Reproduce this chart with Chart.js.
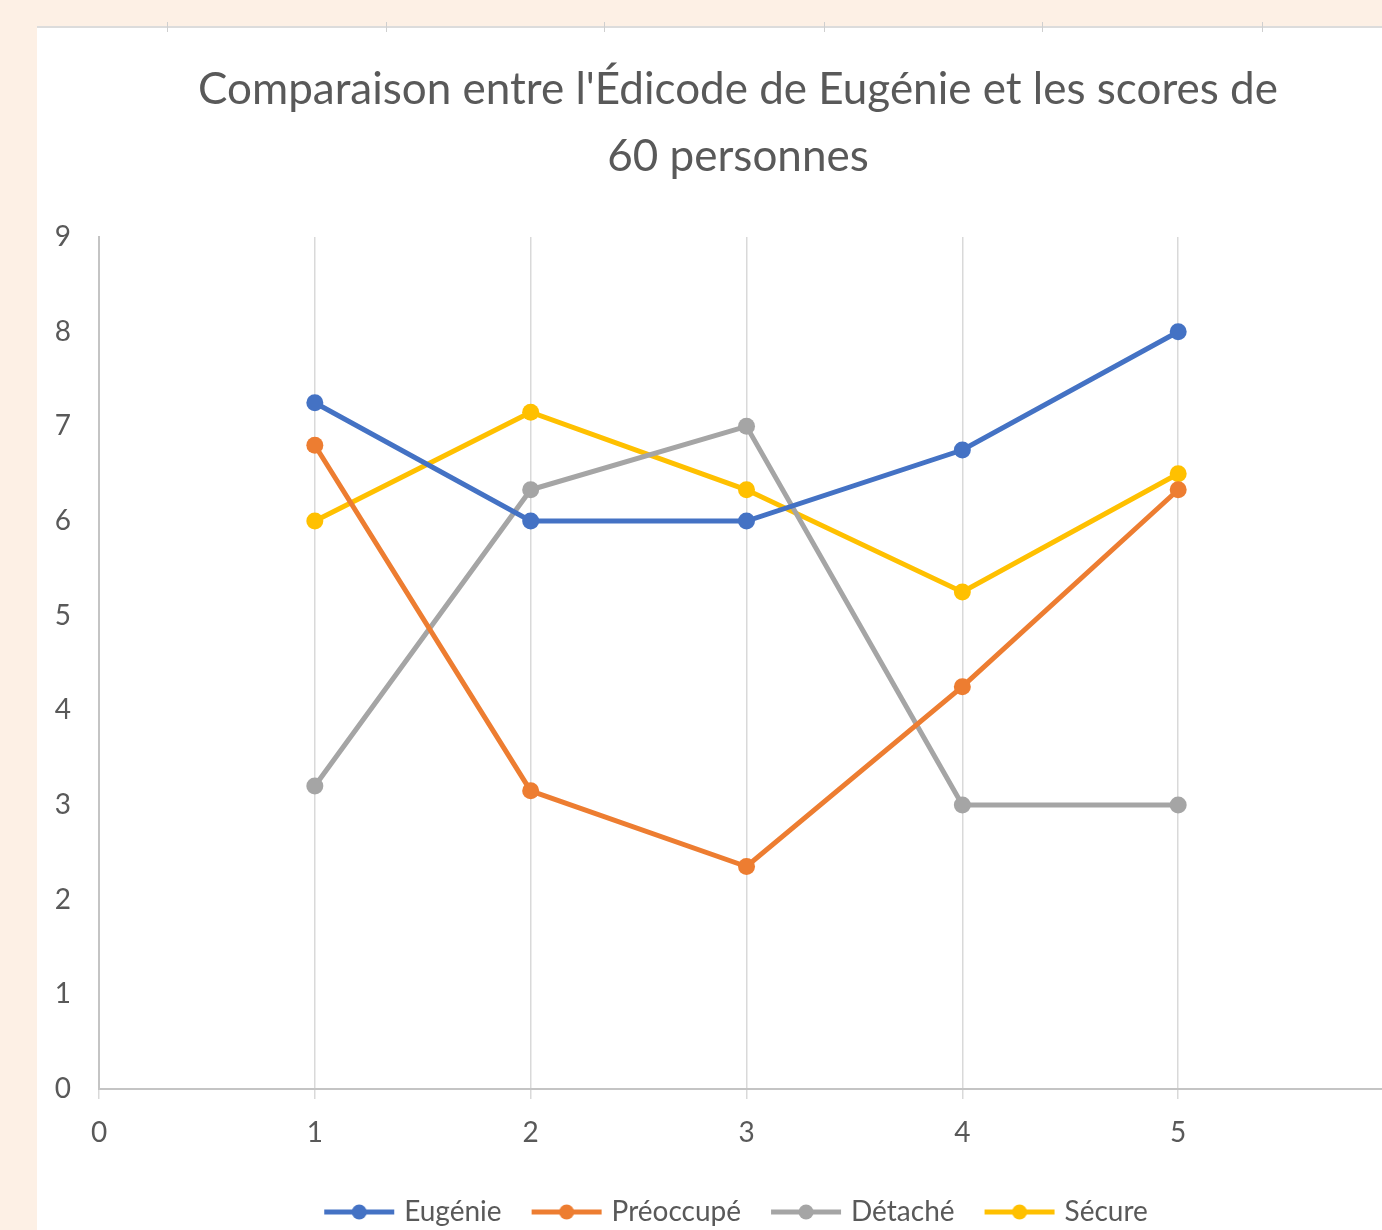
<!DOCTYPE html>
<html>
<head>
<meta charset="utf-8">
<script src="https://cdn.jsdelivr.net/npm/chart.js@4/dist/chart.umd.min.js"></script>
<style>
  html, body { margin: 0; padding: 0; width: 1382px; height: 1230px; overflow: hidden; background: #fdf0e5; }
  #card { position: absolute; left: 37px; top: 28px; width: 1345px; height: 1202px; background: #ffffff; overflow: hidden; }
  #topline { position: absolute; left: 37px; top: 26px; width: 1345px; height: 2px; background: #dcdcdc; }
  .tk { position: absolute; top: 22px; width: 1px; height: 10px; background: #cfcfcf; }
  #wrap { position: absolute; left: 37px; top: 28px; width: 1402px; height: 1215px; }
</style>
</head>
<body>
<div id="card"></div>
<div id="topline"></div>
<div class="tk" style="left:167px"></div>
<div class="tk" style="left:386px"></div>
<div class="tk" style="left:604px"></div>
<div class="tk" style="left:824px"></div>
<div class="tk" style="left:1042px"></div>
<div class="tk" style="left:1262px"></div>
<div id="wrap"><canvas id="c" width="1402" height="1215"></canvas></div>
<script>
const titleLines = ["Comparaison entre l'Édicode de Eugénie et les scores de", "60 personnes"];
const xValues = [1, 2, 3, 4, 5];
const seriesNames = ["Eugénie", "Préoccupé", "Détaché", "Sécure"];
const eugenie   = [7.25, 6.0, 6.0, 6.75, 8.0];
const preoccupe = [6.8, 3.15, 2.35, 4.25, 6.33];
const detache   = [3.2, 6.33, 7.0, 3.0, 3.0];
const secure    = [6.0, 7.15, 6.33, 5.25, 6.5];
const colors = ["#4472C4", "#ED7D31", "#A5A5A5", "#FFC000"];
const yTicks = [0, 1, 2, 3, 4, 5, 6, 7, 8, 9];
const xTickLabels = ["0", "1", "2", "3", "4", "5"];

const allSeries = [eugenie, preoccupe, detache, secure];

function legendIcon(color) {
  const cv = document.createElement('canvas');
  cv.width = 72; cv.height = 20;
  const g = cv.getContext('2d');
  g.strokeStyle = color; g.lineWidth = 5;
  g.beginPath(); g.moveTo(1, 10); g.lineTo(71, 10); g.stroke();
  g.fillStyle = color;
  g.beginPath(); g.arc(36, 10, 7.5, 0, Math.PI * 2); g.fill();
  return cv;
}
const icons = colors.map(legendIcon);

const datasets = seriesNames.map((name, i) => ({
  label: name,
  data: xValues.map((x, j) => ({ x: x, y: allSeries[i][j] })),
  borderColor: colors[i],
  backgroundColor: colors[i],
  borderWidth: 5,
  pointRadius: 8.5,
  pointHoverRadius: 8.5,
  pointBorderWidth: 0,
  tension: 0,
  fill: false
}));

const FONT = "Lato, 'Open Sans', sans-serif";
const TXT = "#595959";

new Chart(document.getElementById('c'), {
  type: 'line',
  data: { datasets: datasets },
  options: {
    responsive: false,
    animation: false,
    events: [],
    layout: { padding: { left: 0, right: 0, top: 0, bottom: 7 } },
    plugins: {
      title: {
        display: true,
        text: titleLines,
        color: TXT,
        font: { family: FONT, size: 44, weight: 'normal', lineHeight: 1.523 },
        padding: { top: 28.5, bottom: 46.5 }
      },
      legend: {
        position: 'bottom',
        labels: {
          color: TXT,
          font: { family: FONT, size: 28 },
          usePointStyle: true,
          pointStyleWidth: 62,
          padding: 34,
          generateLabels: (chart) => seriesNames.map((n, i) => ({
            text: n,
            fillStyle: colors[i],
            strokeStyle: colors[i],
            lineWidth: 0,
            pointStyle: icons[i],
            hidden: false,
            datasetIndex: i,
            fontColor: TXT
          }))
        }
      },
      tooltip: { enabled: false }
    },
    scales: {
      x: {
        type: 'linear',
        min: 0,
        max: 6.169,
        afterFit: (s) => { s.height = 75; },
        afterBuildTicks: (s) => { s.ticks = [0,1,2,3,4,5,6].map(v => ({ value: v })); },
        ticks: {
          stepSize: 1,
          color: TXT,
          font: { family: FONT, size: 28 },
          padding: 17,
          maxRotation: 0,
          callback: (v) => (v <= 5 ? xTickLabels[v] : '')
        },
        grid: {
          color: "#d9d9d9",
          lineWidth: 1.5,
          tickLength: 10,
          drawOnChartArea: true
        },
        border: { display: true, color: "#c4c4c4", width: 2 }
      },
      y: {
        type: 'linear',
        min: 0,
        max: 9,
        afterFit: (s) => { s.width = 62; },
        afterBuildTicks: (s) => { s.ticks = yTicks.map(v => ({ value: v })); },
        ticks: {
          color: TXT,
          font: { family: FONT, size: 28 },
          padding: 28
        },
        grid: { display: true, drawOnChartArea: false, drawTicks: false },
        border: { display: true, color: "#c4c4c4", width: 2 }
      }
    }
  }
});
</script>
</body>
</html>
